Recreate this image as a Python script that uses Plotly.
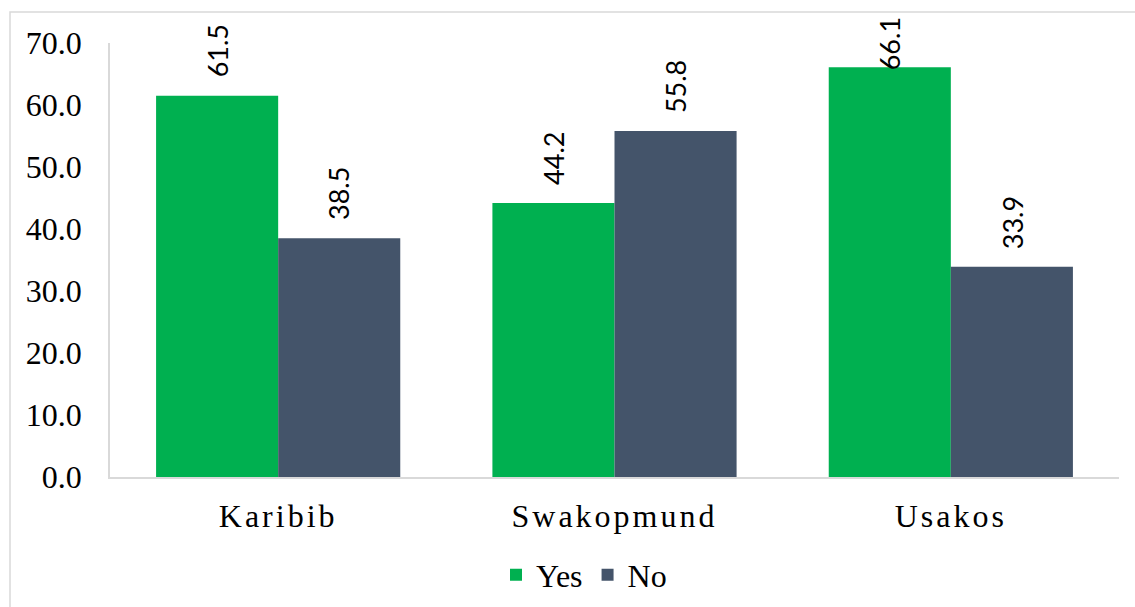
import plotly.graph_objects as go

# Survey responses by town (percent)
towns = ["Karibib", "Swakopmund", "Usakos"]
yes_pct = [61.5, 44.2, 66.1]
no_pct = [38.5, 55.8, 33.9]
y_ticks = [0, 10, 20, 30, 40, 50, 60, 70]

W, H = 1135, 607
M_L, M_R, M_T, M_B = 110, 16, 43, 130
Y_MAX = 70
BARGAP = 0.274

GREEN = "#00B050"
SLATE = "#44546A"
GRID = "#D9D9D9"
SERIF = "Liberation Serif, Times New Roman, serif"
SANS = "Lato, Carlito, Calibri, sans-serif"

fig = go.Figure()
fig.add_trace(go.Bar(name="Yes", x=towns, y=yes_pct, marker=dict(color=GREEN, line=dict(width=0))))
fig.add_trace(go.Bar(name="No", x=towns, y=no_pct, marker=dict(color=SLATE, line=dict(width=0))))

# Rotated value labels above each bar; kept from running off the top of the page
plot_h = H - M_T - M_B
px_per_unit = plot_h / Y_MAX
label_len = 50
label_gap = 16
top_limit = 22
half = (1 - BARGAP) / 4
annotations = []
for series, offset in ((yes_pct, -half), (no_pct, half)):
    for i, v in enumerate(series):
        bar_top = M_T + (Y_MAX - v) * px_per_unit
        shift = label_gap
        if bar_top - shift - label_len < top_limit:
            shift = bar_top - label_len - top_limit
        annotations.append(dict(
            x=i + offset, y=v, xref="x", yref="y",
            text=f"{v:.1f}", showarrow=False, textangle=-90,
            yanchor="bottom", xanchor="center", yshift=shift,
            font=dict(family=SANS, size=27, color="#000000"),
        ))

fig.update_layout(
    width=W, height=H,
    margin=dict(l=M_L, r=M_R, t=M_T, b=M_B, autoexpand=False),
    paper_bgcolor="white", plot_bgcolor="white",
    barmode="group", bargap=BARGAP, bargroupgap=0,
    showlegend=True,
    legend=dict(
        orientation="h", xref="container", yref="container",
        x=584 / W, y=1 - 575 / H, xanchor="center", yanchor="middle",
        font=dict(family=SERIF, size=32, color="#000000"),
        itemsizing="constant", traceorder="normal",
    ),
    annotations=annotations,
    shapes=[dict(
        type="rect", xref="paper", yref="paper",
        x0=(10 - M_L) / (W - M_L - M_R), x1=(W + 5 - M_L) / (W - M_L - M_R),
        y0=(H - M_B - (H + 5)) / plot_h, y1=1 + (M_T - 12) / plot_h,
        line=dict(color=GRID, width=1.5), layer="below",
    )],
)

fig.update_xaxes(
    showline=True, linecolor=GRID, linewidth=1.5, showgrid=False,
    ticks="", ticklabelstandoff=10, automargin=False,
    tickfont=dict(family=SERIF, size=32, color="#000000"),
)
fig.update_yaxes(
    range=[0, Y_MAX], tickvals=y_ticks, ticktext=[f"{t:.1f}" for t in y_ticks],
    showline=True, linecolor=GRID, linewidth=1.5, showgrid=False, zeroline=False,
    ticks="", ticklabelstandoff=20, automargin=False,
    tickfont=dict(family=SERIF, size=32, color="#000000"),
)

# Spread out the town names along the category axis
spacing_js = "document.querySelectorAll('.xtick text').forEach(function(t){t.style.letterSpacing='3px';});"

fig.write_html("out.html", post_script=spacing_js)
